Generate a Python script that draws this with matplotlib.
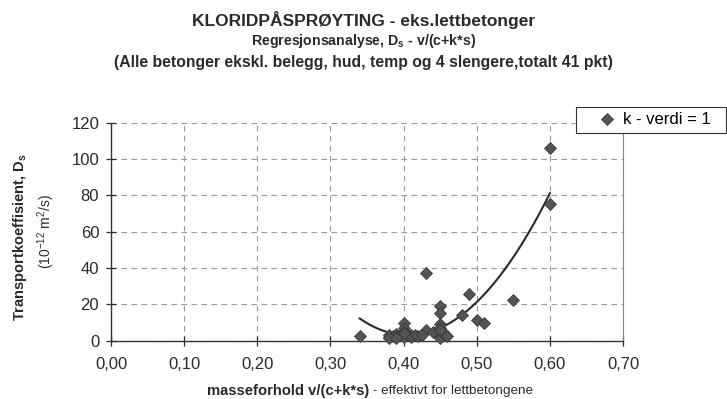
import numpy as np
import matplotlib
matplotlib.use('Agg')
import matplotlib.pyplot as plt
from matplotlib.patches import Rectangle
from matplotlib.ticker import FuncFormatter

# ─── Data ───────────────────────────────────────────────────────────────────
vc_ratio = [0.34, 0.38, 0.38, 0.385, 0.39, 0.39, 0.395, 0.40, 0.40, 0.40,
            0.40, 0.40, 0.405, 0.41, 0.41, 0.415, 0.42, 0.43, 0.43, 0.45,
            0.45, 0.45, 0.45, 0.45, 0.45, 0.45, 0.455, 0.46, 0.48, 0.49,
            0.50, 0.51, 0.55, 0.60, 0.60, 0.38, 0.39, 0.425, 0.44, 0.45,
            0.40]
ds_value = [2.5, 2.0, 3.0, 2.5, 3.5, 2.0, 3.0, 10.0, 7.0, 5.0,
            3.0, 2.0, 3.5, 3.0, 2.0, 3.0, 2.5, 37.5, 6.0, 19.0,
            15.0, 9.0, 7.0, 5.0, 3.0, 1.5, 4.0, 2.5, 14.0, 25.5,
            11.5, 10.0, 22.5, 75.5, 106.0, 1.5, 1.5, 3.0, 5.0, 6.0,
            4.0]
x_ticks = [0.0, 0.1, 0.2, 0.3, 0.4, 0.5, 0.6, 0.7]
y_ticks = [0, 20, 40, 60, 80, 100, 120]
trend_order = 2

plt.rcParams['font.family'] = ['Liberation Sans', 'DejaVu Sans']
plt.rcParams['mathtext.fontset'] = 'custom'
plt.rcParams['mathtext.rm'] = 'Liberation Sans'
plt.rcParams['mathtext.bf'] = 'Liberation Sans:bold'

TXT = '#2a2a2a'

fig = plt.figure(figsize=(7.27, 3.99), dpi=100)
fig.patch.set_facecolor('white')
ax = fig.add_axes([0.1527, 0.1461, 0.7043, 0.5464])

# ── scatter + polynomial trendline ──
ax.plot(vc_ratio, ds_value, linestyle='none', marker='D', markersize=6,
        color='#555555', markeredgecolor='#3a3a3a', markeredgewidth=0.6,
        label='k - verdi = 1', zorder=4, clip_on=False)
coef = np.polyfit(vc_ratio, ds_value, trend_order)
xs = np.linspace(min(vc_ratio), max(vc_ratio), 200)
ax.plot(xs, np.polyval(coef, xs), color='#2a2a2a', linewidth=1.5, zorder=3)

ax.set_xlim(0, 0.7)
ax.set_ylim(0, 120)
ax.set_xticks(x_ticks)
ax.set_yticks(y_ticks)
ax.xaxis.set_major_formatter(FuncFormatter(lambda v, p: f'{v:.2f}'.replace('.', ',')))
ax.tick_params(direction='inout', length=7, width=0.9, labelsize=12,
               colors=TXT)
ax.tick_params(axis='x', pad=8)
ax.tick_params(axis='y', pad=5)
ax.grid(True, color='#999999', linestyle=(0, (5, 4)), linewidth=0.8)
ax.set_axisbelow(True)

ax.spines['top'].set_visible(False)
ax.spines['right'].set_color('#888888')
ax.spines['right'].set_linewidth(0.8)
for s in ('left', 'bottom'):
    ax.spines[s].set_color('#333333')
    ax.spines[s].set_linewidth(1.0)

# ── titles ──
fig.text(0.5, 1 - 20 / 399, 'KLORIDPÅSPRØYTING - eks.lettbetonger',
         ha='center', va='center', fontsize=12.5, fontweight='bold', color=TXT)
fig.text(0.5, 1 - 41 / 399, r'Regresjonsanalyse, D$_\mathbf{s}$ - v/(c+k*s)',
         ha='center', va='center', fontsize=10.2, fontweight='bold', color=TXT)
fig.text(0.5, 1 - 62 / 399,
         '(Alle betonger ekskl. belegg, hud, temp og 4 slengere,totalt 41 pkt)',
         ha='center', va='center', fontsize=11.3, fontweight='bold', color=TXT)

# ── axis labels ──
fig.text(20 / 727, 1 - 237 / 399, r'Transportkoeffisient, D$_\mathbf{s}$',
         rotation=90, ha='center', va='center', fontsize=10.5,
         fontweight='bold', color=TXT)
fig.text(46 / 727, 1 - 232 / 399, r'(10$^{\mathrm{-12}}$ m$^{\mathrm{2}}$/s)',
         rotation=90, ha='center', va='center', fontsize=10, color=TXT)
fig.text(369 / 727, 1 - 391 / 399, 'masseforhold v/(c+k*s)',
         ha='right', va='center', fontsize=10.6, fontweight='bold', color=TXT)
fig.text(369 / 727, 1 - 391 / 399, ' - effektivt for lettbetongene',
         ha='left', va='center', fontsize=9.7, color=TXT)

# ── legend (frame drawn separately to match the box) ──
ax.add_patch(Rectangle((576 / 727, 1 - 133 / 399), 150 / 727, 26 / 399,
                       transform=fig.transFigure, facecolor='white',
                       edgecolor='#333333', linewidth=0.8, zorder=5,
                       clip_on=False))
leg = ax.legend(loc='center left', bbox_to_anchor=(596 / 727, 1 - 120 / 399),
                bbox_transform=fig.transFigure, borderaxespad=0, fontsize=12,
                frameon=False, handlelength=1.3, handletextpad=0.3,
                borderpad=0.0)
leg.set_zorder(6)

fig.savefig('out.png', dpi=100, facecolor='white')
